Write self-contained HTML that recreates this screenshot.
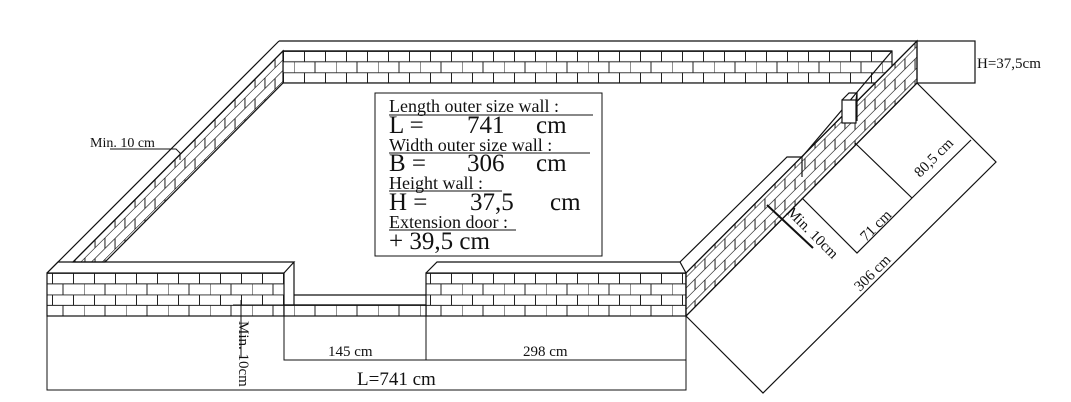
<!DOCTYPE html>
<html><head><meta charset="utf-8"><style>
html,body{margin:0;padding:0;background:#fff;width:1071px;height:402px;overflow:hidden}
svg{display:block}
text{font-family:"Liberation Serif",serif;fill:#111}
</style></head><body>
<svg width="1071" height="402" viewBox="0 0 1071 402" xmlns="http://www.w3.org/2000/svg">
<defs>
<pattern id="bk" patternUnits="userSpaceOnUse" x="0" y="273" width="42" height="21.5">
<rect width="42" height="21.5" fill="#fff"/>
<path d="M0 0.4H42M0 10.9H42M10.5 0V10.75M31.5 0V10.75M0 10.75V21.5M21 10.75V21.5" stroke="#222" stroke-width="1" fill="none"/>
</pattern>
<pattern id="bk2" patternUnits="userSpaceOnUse" x="0" y="51" width="42" height="21.3">
<rect width="42" height="21.3" fill="#fff"/>
<path d="M0 0.4H42M0 10.8H42M10.5 0V10.65M31.5 0V10.65M0 10.65V21.3M21 10.65V21.3" stroke="#222" stroke-width="1" fill="none"/>
</pattern>
<pattern id="bks" patternUnits="userSpaceOnUse" x="0" y="0" width="20" height="21.4" patternTransform="skewY(-45)">
<rect width="20" height="21.4" fill="#fff"/>
<path d="M0 0.4H20M0 11.1H20M5 0V10.7M15 10.7V21.4" stroke="#222" stroke-width="1" fill="none"/>
</pattern>
</defs>
<g stroke="#111" stroke-width="1.2" fill="none">
<rect x="283" y="51" width="609" height="32" fill="url(#bk2)"/>
<path d="M279 41H917M283 51H892"/>
<polygon points="73,262 105,262 283,83 283,51" fill="url(#bks)"/>
<path d="M47 273L279 41M73 262L283 51"/>
<rect x="47" y="273" width="237" height="43" fill="url(#bk)"/>
<rect x="426" y="273" width="260" height="43" fill="url(#bk)"/>
<path d="M47 273L58 262H294L284 273M294 262V305L284 316"/>
<path d="M426 273L437 262H680L686 273"/>
<rect x="284" y="305" width="142" height="11" fill="url(#bk)"/>
<path d="M294 295H426M284 305H426"/>
<polygon points="686,273 917,41 917,83 686,316" fill="url(#bks)"/>
<path d="M686 273L917 41M686 316L917 83M686 273V316"/>
<path d="M680 262L787 157H802V177M802 157L892 51"/>
<rect x="842" y="100" width="14" height="23" fill="#fff"/>
<path d="M842 100L849 93H857L856 100M857 93V121"/>
<rect x="917" y="41" width="58" height="42"/>
<path d="M686 316L763 393L996 162L917 83"/>
<path d="M912 198L971 140M802 198L857 253L912 198M855 143L912 198"/>
<path d="M767 205L813 248" stroke-width="2"/>
<path d="M47 316V390H686V316M284 316V360H686M426 316V360" stroke-width="1"/>
<path d="M233 305H284M241 300V358" stroke-width="1"/>
<path d="M110 149H176L180 153V160" stroke-width="1"/>
<rect x="375" y="93" width="227" height="163" stroke-width="1"/>
<path d="M389 115H593M389 153H590M389 191H502M389 230H516" stroke-width="1"/>
</g>
<text x="90" y="147" font-size="14">Min. 10 cm</text>
<text x="977" y="68" font-size="15">H=37,5cm</text>
<text x="328" y="356" font-size="15">145 cm</text>
<text x="523" y="356" font-size="15">298 cm</text>
<text x="357" y="385" font-size="19">L=741 cm</text>
<text transform="translate(239,321) rotate(90)" font-size="15">Min. 10cm</text>
<text transform="translate(786,213) rotate(45)" font-size="15">Min. 10cm</text>
<text transform="translate(860,292) rotate(-45)" font-size="15">306 cm</text>
<text transform="translate(920,178) rotate(-45)" font-size="15">80,5 cm</text>
<text transform="translate(866,242) rotate(-45)" font-size="15">71 cm</text>
<text x="389" y="112" font-size="18">Length outer size wall  :</text>
<text x="389" y="133" font-size="25">L =</text><text x="467" y="133" font-size="25">741</text><text x="536" y="133" font-size="25">cm</text>
<text x="389" y="151" font-size="18">Width outer size wall  :</text>
<text x="389" y="171" font-size="25">B =</text><text x="467" y="171" font-size="25">306</text><text x="536" y="171" font-size="25">cm</text>
<text x="389" y="189" font-size="18">Height wall    :</text>
<text x="389" y="210" font-size="25">H =</text><text x="470" y="210" font-size="25">37,5</text><text x="550" y="210" font-size="25">cm</text>
<text x="389" y="228" font-size="18">Extension door :</text>
<text x="389" y="249" font-size="25">+ 39,5 cm</text>
</svg>
</body></html>
